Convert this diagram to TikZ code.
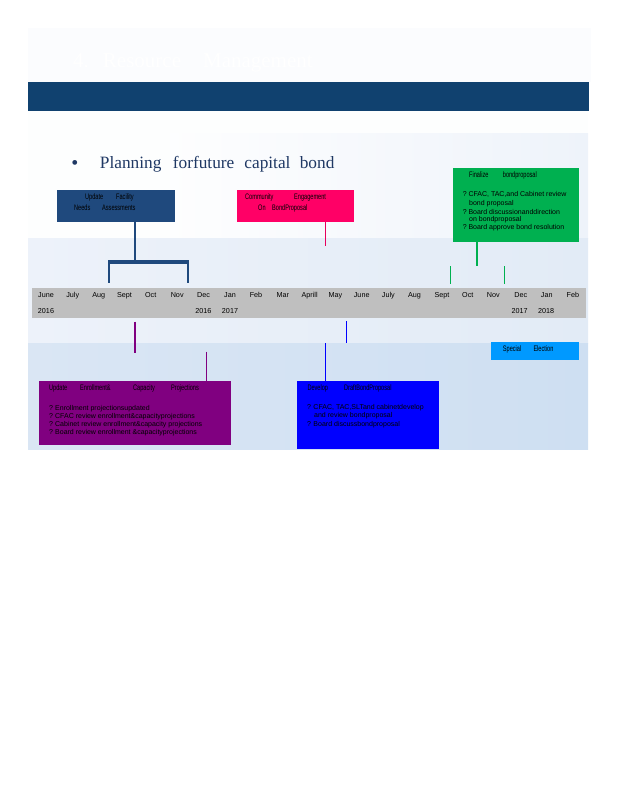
\documentclass[tikz,border=0pt]{standalone}
\usepackage{fontspec}
\setmainfont{Liberation Sans}
\newfontfamily\titlefont{Liberation Serif}
\newfontfamily\narrowfont[FakeStretch=0.7]{Liberation Sans}
\definecolor{topbg}{HTML}{FBFCFE}
\definecolor{band}{HTML}{10416F}
\definecolor{zoneA}{HTML}{EEF3FA}
\definecolor{zoneBl}{HTML}{EDF2FA}
\definecolor{zoneBr}{HTML}{E2EBF6}
\definecolor{zoneCl}{HTML}{DAE6F4}
\definecolor{zoneCr}{HTML}{CEDFF2}
\definecolor{graybar}{HTML}{BFBFBF}
\definecolor{titleblue}{HTML}{1F3864}
\definecolor{updblue}{HTML}{1F497D}
\definecolor{pinkbox}{HTML}{FF0066}
\definecolor{pinkline}{HTML}{E6005C}
\definecolor{greenbox}{HTML}{00B050}
\definecolor{purplebox}{HTML}{800080}
\definecolor{bluebox}{HTML}{0000FF}
\definecolor{specialbox}{HTML}{0099FF}
\tikzset{
  box/.style={draw=none, inner sep=0pt, outer sep=0pt, anchor=north west},
  hd/.style={inner sep=0pt, anchor=mid west, font=\narrowfont\fontsize{8}{9}\selectfont, text=black},
  bl/.style={inner sep=0pt, anchor=mid west, font=\fontsize{7}{8}\selectfont, text=black},
  mon/.style={inner sep=0pt, anchor=mid, font=\fontsize{7.2}{8}\selectfont, text=black},
}
\begin{document}
\begin{tikzpicture}[x=1pt,y=-1pt]
\useasboundingbox (0,0) rectangle (618,800);
% backgrounds
\fill[topbg] (28,28) rectangle (591,82);
\node[inner sep=0pt, anchor=mid west, text=white, font=\titlefont\fontsize{21}{24}\selectfont] (head) at (73,65) {4.\hspace{14pt}Resource\hspace{22pt}Management};
\fill[band] (28,82) rectangle (589,110.7);
\fill[white!60!topbg] (28,110.7) rectangle (588,238);
\shade[left color=white!60!topbg, right color=zoneA] (170,133) rectangle (588,238);
\shade[left color=zoneBl, right color=zoneBr] (28,238) rectangle (588,343);
\shade[left color=zoneCl, right color=zoneCr] (28,343) rectangle (588,449);
\fill[graybar] (32,288) rectangle (586,317.5);

% title
\node[inner sep=0pt, anchor=base west, text=titleblue, font=\titlefont\fontsize{20}{22}\selectfont] (bullet) at (71.2,169) {\textbullet};
\node[inner sep=0pt, anchor=base west, text=titleblue, font=\titlefont\fontsize{17.3}{20}\selectfont] (title) at (99.7,168.3) {Planning\hspace{11.5pt}forfuture\hspace{10pt}capital\hspace{9.3pt}bond};

% boxes
\node[box, fill=updblue, minimum width=118pt, minimum height=31.7pt] (upd) at (57,190) {};
\node[box, fill=pinkbox, minimum width=116.7pt, minimum height=31.7pt] (pink) at (237,190) {};
\node[box, fill=greenbox, minimum width=126pt, minimum height=73.7pt] (green) at (453,168) {};
\node[box, fill=purplebox, minimum width=192pt, minimum height=63.5pt] (purp) at (39,381) {};
\node[box, fill=bluebox, minimum width=142pt, minimum height=68pt] (blue) at (297,381) {};
\node[box, fill=specialbox, minimum width=88pt, minimum height=17.7pt] (spec) at (491,342) {};

% connectors: update facility
\coordinate (bc) at (135,262);
\coordinate (bl) at (108,262);
\coordinate (br) at (189,262);
\coordinate (blt) at (109,262);
\coordinate (blb) at (109,283);
\coordinate (brt) at (188,262);
\coordinate (brb) at (188,283);
\draw[updblue, line width=2pt] (upd.south -| bc) -- (bc);
\draw[updblue, line width=4pt] (bl) -- (br);
\draw[updblue, line width=2pt] (blt) -- (blb);
\draw[updblue, line width=2pt] (brt) -- (brb);
% pink
\coordinate (pk) at (325,245.7);
\draw[pinkline, line width=1pt] (pink.south -| pk) -- (pk);
% green
\coordinate (gk) at (477,266);
\coordinate (g1t) at (450.5,266);
\coordinate (g1b) at (450.5,283.7);
\coordinate (g2t) at (504.5,266);
\coordinate (g2b) at (504.5,283.7);
\draw[greenbox, line width=2.5pt] (green.south -| gk) -- (gk);
\draw[greenbox, line width=1.2pt] (g1t) -- (g1b);
\draw[greenbox, line width=1.2pt] (g2t) -- (g2b);
% purple
\coordinate (p1t) at (135,321.7);
\coordinate (p1b) at (135,352.7);
\coordinate (p2t) at (206,351.7);
\draw[purplebox, line width=2.5pt] (p1t) -- (p1b);
\draw[purplebox, line width=1pt] (p2t) -- (purp.north -| p2t);
% blue
\coordinate (u1t) at (346.3,321);
\coordinate (u1b) at (346.3,343.3);
\coordinate (u2t) at (325.3,343);
\draw[bluebox, line width=1.2pt] (u1t) -- (u1b);
\draw[bluebox, line width=1.2pt] (u2t) -- (blue.north -| u2t);

% headings
\node[hd] (h1) at (85,197) {Update};
\node[hd] (h2) at (116,197) {Facility};
\node[hd] (h3) at (74,208) {Needs};
\node[hd] (h4) at (102,208) {Assessments};
\node[hd] (h5) at (245,197) {Community};
\node[hd] (h6) at (294,197) {Engagement};
\node[hd] (h7) at (258,208) {On};
\node[hd] (h8) at (272,208) {BondProposal};
\node[hd] (h9) at (469,175) {Finalize};
\node[hd] (h10) at (502.7,175) {bondproposal};
\node[hd] (h11) at (49,387.7) {Update};
\node[hd] (h12) at (80,387.7) {Enrollment\&};
\node[hd] (h13) at (133,387.7) {Capacity};
\node[hd] (h14) at (171,387.7) {Projections};
\node[hd] (h15) at (307.3,387.7) {Develop};
\node[hd] (h16) at (344,387.7) {DraftBondProposal};
\node[hd] (h17) at (502.7,349) {Special};
\node[hd] (h18) at (533.3,349) {Election};

% green bullets
\node[bl] (gb1) at (462.7,194.3) {\makebox[5.6pt][l]{?}CFAC, TAC,and Cabinet review};
\node[bl] (gb2) at (469,202.7) {bond proposal};
\node[bl] (gb3) at (462.7,211.5) {\makebox[5.6pt][l]{?}Board discussionanddirection};
\node[bl] (gb4) at (469,219.3) {on bondproposal};
\node[bl] (gb5) at (462.7,227.3) {\makebox[5.6pt][l]{?}Board approve bond resolution};
% purple bullets
\node[bl] (pb1) at (49,407.7) {\makebox[6pt][l]{?}Enrollment projectionsupdated};
\node[bl] (pb2) at (49,415.5) {\makebox[6pt][l]{?}CFAC review  enrollment\&capacityprojections};
\node[bl] (pb3) at (49,424) {\makebox[6pt][l]{?}Cabinet review enrollment\&capacity projections};
\node[bl] (pb4) at (49,432.3) {\makebox[6pt][l]{?}Board review enrollment \&capacityprojections};
% blue bullets
\node[bl] (ub1) at (307,407.3) {\makebox[6.3pt][l]{?}CFAC, TAC,SLTand cabinetdevelop};
\node[bl] (ub2) at (314,415) {and review bondproposal};
\node[bl] (ub3) at (307,424) {\makebox[6.3pt][l]{?}Board discussbondproposal};

% months
\foreach \m/\x [count=\i] in {June/46, July/72.7, Aug/98.7, Sept/124.5, Oct/150.7, Nov/177.2, Dec/203.5, Jan/230, Feb/256, Mar/282.8, Aprill/309.6, May/335.3, June/361.7, July/388.3, Aug/414.5, Sept/442, Oct/467.8, Nov/493.2, Dec/520.7, Jan/546.7, Feb/572.8}
  \node[mon] (mon\i) at (\x,294.7) {\m};
\foreach \m/\x [count=\i] in {2016/46, 2016/203.4, 2017/230, 2017/519.7, 2018/546.2}
  \node[mon] (yr\i) at (\x,310.7) {\m};
\end{tikzpicture}
\end{document}
